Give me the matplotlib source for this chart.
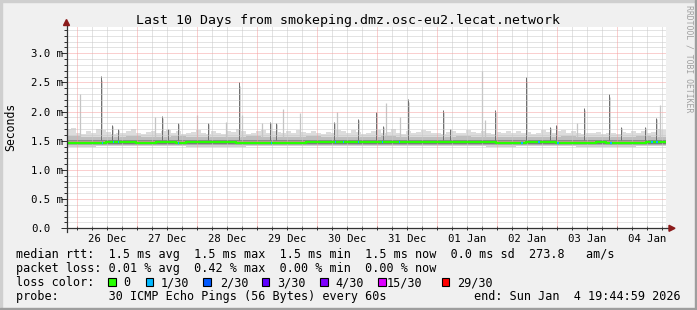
import numpy as np
import matplotlib
matplotlib.use("Agg")
import matplotlib.pyplot as plt
from matplotlib.patches import Rectangle, Polygon
from matplotlib.lines import Line2D

W, H, DPI = 697, 310, 100
MONO = "DejaVu Sans Mono"

# ---------------- data ----------------
title = "Last 10 Days from smokeping.dmz.osc-eu2.lecat.network"
span_days = 10
first_midnight = 4.25 / 24          # Dec 26 00:00 after start (Dec 25 19:45)
day_labels = ["26 Dec", "27 Dec", "28 Dec", "29 Dec", "30 Dec",
              "31 Dec", "01 Jan", "02 Jan", "03 Jan", "04 Jan"]
y_ticks = [0.0, 0.5, 1.0, 1.5, 2.0, 2.5, 3.0]
y_ticklabels = ["0.0", "0.5 m", "1.0 m", "1.5 m", "2.0 m", "2.5 m", "3.0 m"]
y_max = 3.456

# median rtt (ms), 4-hour bins
median_4h = [1.47, 1.46, 1.46, 1.47, 1.48, 1.48, 1.48, 1.47, 1.47, 1.48,
             1.48, 1.47, 1.48, 1.48, 1.48, 1.48, 1.48, 1.47, 1.46, 1.46,
             1.46, 1.46, 1.46, 1.47, 1.48, 1.48, 1.48, 1.48, 1.48, 1.48,
             1.48, 1.48, 1.48, 1.48, 1.48, 1.48, 1.48, 1.48, 1.48, 1.48,
             1.48, 1.48, 1.48, 1.46, 1.46, 1.47, 1.48, 1.48, 1.48, 1.47,
             1.46, 1.46, 1.47, 1.48, 1.47, 1.46, 1.46, 1.46, 1.48, 1.48]

# lightest smoke top (ms), 2-hour bins
smoke_top_2h = [1.70, 1.72, 1.64, 1.62, 1.66, 1.63, 1.70, 1.68, 1.65, 1.62, 1.64, 1.63,
                1.66, 1.71, 1.64, 1.62, 1.65, 1.67, 1.63, 1.66, 1.68, 1.64, 1.66, 1.62,
                1.63, 1.65, 1.69, 1.64, 1.62, 1.66, 1.63, 1.62, 1.67, 1.65, 1.70, 1.66,
                1.62, 1.64, 1.67, 1.68, 1.64, 1.66, 1.65, 1.63, 1.66, 1.64, 1.69, 1.65,
                1.63, 1.67, 1.64, 1.62, 1.65, 1.63, 1.68, 1.66, 1.64, 1.69, 1.65, 1.62,
                1.64, 1.66, 1.68, 1.63, 1.65, 1.70, 1.64, 1.62, 1.66, 1.63, 1.65, 1.68,
                1.66, 1.63, 1.64, 1.62, 1.65, 1.67, 1.63, 1.64, 1.69, 1.65, 1.63, 1.66,
                1.64, 1.62, 1.65, 1.63, 1.66, 1.64, 1.67, 1.63, 1.65, 1.62, 1.64, 1.68,
                1.65, 1.63, 1.66, 1.69, 1.64, 1.66, 1.63, 1.62, 1.64, 1.63, 1.65, 1.62,
                1.64, 1.63, 1.62, 1.65, 1.63, 1.66, 1.64, 1.67, 1.63, 1.65, 1.70, 1.68]

# light-gray smoke top (ms), 6-hour bins
smoke_hi_6h = [1.58, 1.57, 1.56, 1.57, 1.58, 1.56, 1.57, 1.58, 1.56, 1.57,
               1.57, 1.56, 1.58, 1.57, 1.56, 1.57, 1.58, 1.57, 1.56, 1.57,
               1.57, 1.58, 1.56, 1.57, 1.56, 1.57, 1.58, 1.57, 1.56, 1.56,
               1.57, 1.56, 1.57, 1.58, 1.56, 1.57, 1.56, 1.57, 1.58, 1.57]
# inner smoke bounds (ms), 12-hour bins
smoke_in_hi_12h = [1.52, 1.51, 1.52, 1.52, 1.51, 1.52, 1.52, 1.52, 1.51, 1.52,
                   1.52, 1.52, 1.51, 1.52, 1.52, 1.51, 1.52, 1.52, 1.51, 1.52]
smoke_in_lo_12h = [1.44, 1.45, 1.45, 1.45, 1.44, 1.44, 1.45, 1.45, 1.45, 1.45,
                   1.45, 1.45, 1.45, 1.45, 1.44, 1.45, 1.45, 1.44, 1.44, 1.45]
smoke_lo_12h = [1.42, 1.43, 1.43, 1.43, 1.42, 1.42, 1.43, 1.43, 1.43, 1.43,
                1.43, 1.43, 1.43, 1.43, 1.42, 1.43, 1.43, 1.42, 1.42, 1.43]
smoke_bot_12h = [1.40, 1.41, 1.41, 1.41, 1.40, 1.40, 1.41, 1.41, 1.41, 1.41,
                 1.41, 1.41, 1.41, 1.41, 1.40, 1.41, 1.41, 1.40, 1.40, 1.41]

# isolated max-rtt spikes: time (days since start), value (ms), dark?
spike_t = [0.233, 0.583, 0.767, 0.867, 1.483, 1.600, 1.700, 1.867, 2.183, 2.367,
           2.667, 2.883, 2.933, 3.267, 3.400, 3.500, 3.617, 3.900, 4.467, 4.517,
           4.867, 5.167, 5.283, 5.333, 5.567, 5.700, 6.283, 6.400, 6.933, 6.983,
           7.150, 7.667, 8.067, 8.167, 8.517, 8.633, 9.050, 9.250, 9.650, 9.833, 9.900]
spike_v = [2.31, 2.61, 1.77, 1.70, 1.90, 1.92, 1.71, 1.80, 1.94, 1.80,
           1.82, 2.50, 1.94, 1.80, 1.82, 1.80, 2.04, 1.97, 1.83, 1.99,
           1.87, 2.00, 1.75, 2.14, 1.90, 2.21, 2.02, 1.71, 2.70, 1.85,
           2.02, 2.59, 1.73, 1.77, 1.80, 2.06, 2.31, 1.73, 1.73, 1.89, 2.11]
spike_dark = [0, 1, 1, 1, 0, 1, 1, 1, 0, 1,
              0, 1, 0, 0, 1, 1, 0, 0, 1, 0,
              1, 1, 1, 0, 0, 1, 1, 1, 0, 0,
              1, 1, 1, 1, 0, 1, 1, 1, 1, 1, 0]

# 1/30 loss moments (days since start)
loss1_t = [0.600, 0.783, 0.867, 1.867, 3.417, 4.483, 4.617, 4.867, 5.267, 5.550,
           7.600, 7.883, 8.200, 9.083, 9.767, 9.850]

legend_rows = [
    "median rtt:  1.5 ms avg  1.5 ms max  1.5 ms min  1.5 ms now  0.0 ms sd  273.8   am/s",
    "packet loss: 0.01 % avg  0.42 % max  0.00 % min  0.00 % now",
    "loss color:",
    "probe:       30 ICMP Echo Pings (56 Bytes) every 60s",
]
end_text = "end: Sun Jan  4 19:44:59 2026"
loss_labels = ["0", "1/30", "2/30", "3/30", "4/30", "15/30", "29/30"]
loss_colors = ["#26ff00", "#00b8ff", "#0059ff", "#5e00ff", "#7e00ff", "#dd00ff", "#ff0000"]

# ---------------- figure ----------------
def fx(px):
    return px / W

def fy(py):
    return 1 - py / H

fig = plt.figure(figsize=(W / DPI, H / DPI), dpi=DPI, facecolor="#f0f0f0")

# 3D frame
fig.patches.append(Rectangle((0, fy(2)), 1, 2 / H, transform=fig.transFigure, color="#cfcfcf", zorder=0))
fig.patches.append(Rectangle((0, 0), 2 / W, 1, transform=fig.transFigure, color="#cfcfcf", zorder=0))
fig.patches.append(Rectangle((0, 0), 1, 2 / H, transform=fig.transFigure, color="#9e9e9e", zorder=0))
fig.patches.append(Rectangle((fx(W - 2), 0), 2 / W, 1, transform=fig.transFigure, color="#9e9e9e", zorder=0))

L, R, T, B = 66.5, 666.0, 26.7, 228.3
ax = fig.add_axes([fx(L), fy(B), fx(R) - fx(L), fy(T) - fy(B)])
ax.set_facecolor("white")
ax.set_xlim(0, span_days)
ax.set_ylim(0, y_max)
for s in ax.spines.values():
    s.set_visible(False)

# smoke
n2 = len(smoke_top_2h)
edges = np.linspace(0, span_days, n2 + 1)
def ext(a):
    a = np.asarray(a, float)
    return np.append(a, a[-1])
top = ext(smoke_top_2h)
hi = ext(np.repeat(smoke_hi_6h, 3))
in_hi = ext(np.repeat(smoke_in_hi_12h, 6))
med = ext(np.repeat(median_4h, 2))
in_lo = ext(np.repeat(smoke_in_lo_12h, 6))
lo = ext(np.repeat(smoke_lo_12h, 6))
bot = ext(np.repeat(smoke_bot_12h, 6))

ax.fill_between(edges, hi, top, step="post", color="#dcdcdc", lw=0, zorder=1)
ax.fill_between(edges, in_hi, hi, step="post", color="#bebebe", lw=0, zorder=1)
ax.fill_between(edges, med, in_hi, step="post", color="#8a8a8a", lw=0, zorder=1)
ax.fill_between(edges, in_lo, med, step="post", color="#7a7a7a", lw=0, zorder=1)
ax.fill_between(edges, lo, in_lo, step="post", color="#a8a8a8", lw=0, zorder=1)
ax.fill_between(edges, bot, lo, step="post", color="#d0d0d0", lw=0, zorder=1)

# spikes
px_day = span_days / (R - L)
for t, v, d in zip(spike_t, spike_v, spike_dark):
    i = min(int(t / span_days * n2), n2 - 1)
    if d:
        ax.vlines(t + px_day, hi[i], v * 0.93 + hi[i] * 0.07, colors="#d4d4d4", lw=0.72, zorder=1.4)
        ax.vlines(t, in_hi[i], v, colors="#707070", lw=0.72, zorder=1.5)
    else:
        ax.vlines(t, hi[i], v, colors="#c4c4c4", lw=0.9, zorder=1.5)

# grid (drawn over smoke like rrdtool)
gkw = dict(lw=0.72, ls=(0, (1, 1)))
yg_minor = [y for y in np.arange(0.1, y_max, 0.1) if abs(y / 0.5 - round(y / 0.5)) > 1e-6]
for y in yg_minor:
    ax.axhline(y, color="#c8c8c8", zorder=2, **gkw)
for y in y_ticks[1:]:
    ax.axhline(y, color="#f6a0a0", zorder=2.1, **gkw)
six = [first_midnight + k * 0.25 for k in range(-1, 40) if 0 < first_midnight + k * 0.25 < span_days]
mid = [first_midnight + k for k in range(10)]
for x in six:
    if min(abs(x - m) for m in mid) > 1e-6:
        ax.axvline(x, color="#c8c8c8", zorder=2, **gkw)
for x in mid:
    ax.axvline(x, color="#f6a0a0", zorder=2.1, **gkw)

# median line + loss colour
ax.step(edges, med, where="post", color=loss_colors[0], lw=1.6, zorder=3)
for t in loss1_t:
    i = min(int(t / span_days * n2), n2 - 1)
    ax.hlines(med[i], t - 0.7 * px_day, t + 0.7 * px_day, colors=loss_colors[1], lw=1.6, zorder=3.5)

# ticks
noons = [first_midnight + 0.5 + k for k in range(10)]
ax.set_xticks(noons)
ax.set_xticklabels(day_labels, fontfamily=MONO, fontsize=7.7)
ax.set_xticks([x for x in six if min(abs(x - n) for n in noons) > 1e-6], minor=True)
ax.tick_params(axis="x", which="both", direction="inout", length=3, width=0.72, color="#333333", pad=2.5)
ax.set_yticks(y_ticks)
ax.set_yticklabels(y_ticklabels, fontfamily=MONO, fontsize=7.7)
ax.set_yticks(yg_minor, minor=True)
ax.tick_params(axis="y", which="major", direction="out", length=4, width=0.72, color="#333333", pad=24.5 - 2.9)
ax.tick_params(axis="y", which="minor", direction="out", length=2, width=0.72, color="#333333")
for lab in ax.get_yticklabels():
    lab.set_horizontalalignment("left")

# axis lines with arrows
fig.lines.append(Line2D([fx(L), fx(670)], [fy(B), fy(B)], transform=fig.transFigure, color="#333333", lw=0.9, zorder=5))
fig.lines.append(Line2D([fx(L), fx(L)], [fy(B + 4), fy(24)], transform=fig.transFigure, color="#333333", lw=0.9, zorder=5))
fig.patches.append(Polygon([(fx(669), fy(B - 3)), (fx(675), fy(B)), (fx(669), fy(B + 3))],
                           closed=True, transform=fig.transFigure, color="#8b1a1a", zorder=6))
fig.patches.append(Polygon([(fx(L - 3), fy(25.5)), (fx(L), fy(19.5)), (fx(L + 3), fy(25.5))],
                           closed=True, transform=fig.transFigure, color="#8b1a1a", zorder=6))

# texts
fig.text(fx(348), fy(24.3), title, ha="center", va="baseline", fontfamily=MONO, fontsize=9.5)
fig.text(fx(10.5), fy(126.5), "Seconds", rotation=90, ha="center", va="center", fontfamily=MONO, fontsize=8.3)
fig.text(fx(689), fy(59), "RRDTOOL / TOBI OETIKER", rotation=-90, ha="center", va="center",
         fontfamily=MONO, fontsize=5.9, color="#a0a0a0")

row_base = [258.3, 272.3, 286.3, 300.3]
for txt, yb in zip(legend_rows, row_base):
    fig.text(fx(15.5), fy(yb), txt, ha="left", va="baseline", fontfamily=MONO, fontsize=8.45)
fig.text(fx(681), fy(row_base[3]), end_text, ha="right", va="baseline", fontfamily=MONO, fontsize=8.45)

box_x = [108.3, 145.7, 203.3, 261.7, 320.0, 378.3, 441.7]
lab_x = [123.0, 160.7, 220.0, 277.0, 335.0, 387.0, 457.0]
for bx, lx, lab, col in zip(box_x, lab_x, loss_labels, loss_colors):
    fig.patches.append(Rectangle((fx(bx), fy(285.7)), 7.5 / W, 8 / H, transform=fig.transFigure,
                                 facecolor=col, edgecolor="black", lw=0.8, zorder=5))
    fig.text(fx(lx), fy(row_base[2]), lab, ha="left", va="baseline", fontfamily=MONO, fontsize=8.45)

fig.savefig("out.png", dpi=DPI, facecolor=fig.get_facecolor())
